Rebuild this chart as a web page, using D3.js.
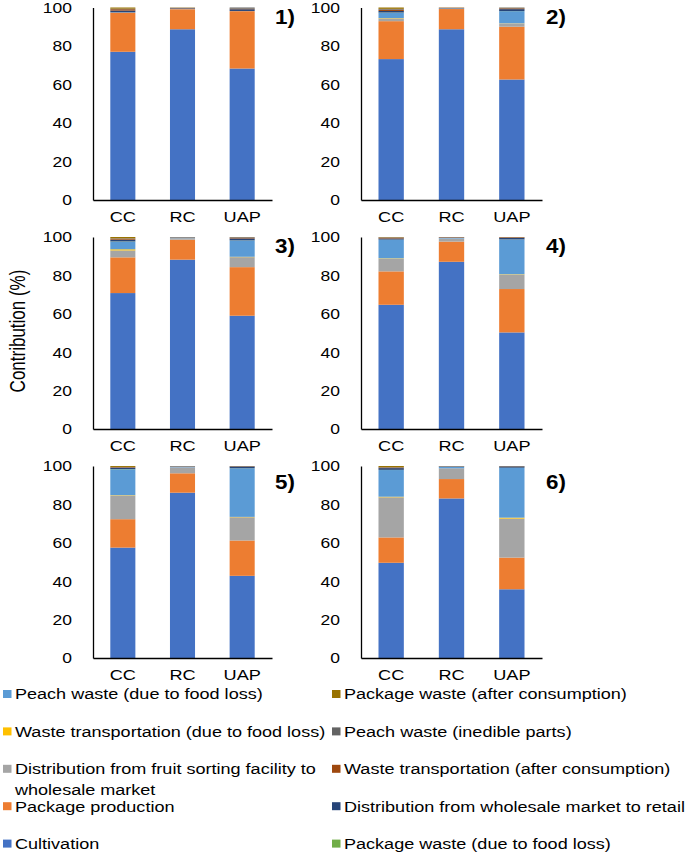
<!DOCTYPE html>
<html><head><meta charset="utf-8">
<script src="https://cdn.jsdelivr.net/npm/d3@7"></script>
<style>body{margin:0;background:#fff}svg{display:block}</style>
</head><body>
<svg id="chart" width="685" height="852"></svg>
<script>
const categories = ["CC", "RC", "UAP"];
const panelLabels = ["1)", "2)", "3)", "4)", "5)", "6)"];
const yTicks = [0, 20, 40, 60, 80, 100];
const yTitle = "Contribution (%)";
const seriesNames = [
  "Cultivation",
  "Package production",
  "Distribution from fruit sorting facility to wholesale market",
  "Waste transportation (due to food loss)",
  "Peach waste (due to food loss)",
  "Package waste (due to food loss)",
  "Distribution from wholesale market to retail",
  "Waste transportation (after consumption)",
  "Peach waste (inedible parts)",
  "Package waste (after consumption)"
];
const seriesColors = ["#4472C4", "#ED7D31", "#A5A5A5", "#FFC000", "#5B9BD5",
  "#70AD47", "#264478", "#9E480E", "#636363", "#997300"];

// values per panel (1..6), each [CC, RC, UAP]
const cultivation       = [[77.0, 88.7, 68.3], [73.2, 88.7, 62.6], [70.8, 88.2, 59.0], [64.7, 87.1, 50.3], [57.5, 86.1, 42.8], [49.6, 83.1, 35.8]];
const packageProduction = [[20.2, 10.4, 29.8], [19.7, 10.5, 27.4], [18.6, 10.4, 25.3], [17.4, 10.5, 22.6], [14.8, 10.1, 18.4], [13.2, 10.1, 16.5]];
const distSorting       = [[0.3, 0.2, 0.1], [1.4, 0.2, 1.7], [3.6, 0.8, 5.2], [6.6, 1.6, 7.5], [12.3, 3.1, 12.1], [20.9, 5.6, 20.3]];
const wasteTranspFL     = [[0, 0, 0], [0.2, 0, 0.1], [0.6, 0, 0.2], [0.2, 0, 0.2], [0.2, 0, 0.2], [0.3, 0, 0.5]];
const peachWasteFL      = [[0, 0, 0], [2.8, 0.1, 6.3], [4.0, 0.2, 8.5], [9.7, 0.3, 18.1], [13.5, 0.3, 25.3], [13.9, 0.8, 25.9]];
const packageWasteFL    = [[0, 0, 0], [0.1, 0, 0.05], [0.1, 0, 0.05], [0.05, 0, 0.05], [0.1, 0, 0.05], [0.1, 0, 0.1]];
const distWholesale     = [[0.9, 0.3, 0.9], [0.8, 0.2, 1.0], [0.9, 0.2, 1.0], [0.6, 0.2, 0.8], [0.6, 0.2, 0.9], [0.9, 0.2, 0.7]];
const wasteTranspAC     = [[0.7, 0.2, 0.3], [0.7, 0.2, 0.4], [0.5, 0.1, 0.4], [0.4, 0.2, 0.3], [0.3, 0.1, 0.15], [0.3, 0.1, 0.1]];
const peachInedible     = [[0.3, 0.1, 0.6], [0.4, 0.05, 0.4], [0.2, 0.05, 0.3], [0.2, 0.05, 0.1], [0.2, 0.05, 0.05], [0.2, 0.05, 0.05]];
const packageWasteAC    = [[0.6, 0.1, 0], [0.7, 0.05, 0.05], [0.7, 0.05, 0.05], [0.15, 0.05, 0.05], [0.5, 0.05, 0.05], [0.6, 0.05, 0.05]];

const seriesData = [cultivation, packageProduction, distSorting, wasteTranspFL, peachWasteFL,
  packageWasteFL, distWholesale, wasteTranspAC, peachInedible, packageWasteAC];

const FONT = "'Liberation Sans', Arial, sans-serif";
const SX = 1.25; // horizontal stretch of the reference text
const svg = d3.select("#chart");

const colX = [[93, 272], [361, 542]];
const rowY = [[200, 7.5], [429, 237], [658, 466]];
const labelDY = [9.5, 9, 16];

const keys = d3.range(seriesNames.length);
const stack = d3.stack().keys(keys);

panelLabels.forEach((lab, p) => {
  const col = p % 2, row = Math.floor(p / 2);
  const x = d3.scaleBand().domain(categories).range(colX[col]).paddingInner(0.58).paddingOuter(0.29);
  const y = d3.scaleLinear().domain([0, 100]).range(rowY[row]);
  const rows = categories.map((c, i) => {
    const o = { cat: c };
    keys.forEach(k => o[k] = seriesData[k][p][i]);
    return o;
  });
  const g = svg.append("g");
  const layers = stack(rows);
  g.selectAll("g.layer").data(layers).join("g")
    .attr("fill", d => seriesColors[d.key])
    .selectAll("rect").data(d => d).join("rect")
    .attr("x", d => x(d.data.cat))
    .attr("width", x.bandwidth())
    .attr("y", d => y(d[1]))
    .attr("height", d => Math.max(0, y(d[0]) - y(d[1])));

  const ya = g.append("g").attr("transform", `translate(${colX[col][0]},0)`)
    .call(d3.axisLeft(y).tickValues(yTicks).tickSize(0).tickSizeOuter(0).tickPadding(0));
  ya.select(".domain").attr("stroke", "#000").attr("stroke-width", 1.3);
  ya.selectAll(".tick text")
    .attr("x", null).attr("dy", "0.35em")
    .attr("transform", `translate(-21,0) scale(${SX},1)`)
    .attr("font-family", FONT).attr("font-size", 14).attr("fill", "#000");

  const xa = g.append("g").attr("transform", `translate(0,${rowY[row][0]})`)
    .call(d3.axisBottom(x).tickSize(0).tickSizeOuter(0).tickPadding(0));
  xa.select(".domain").attr("stroke", "#000").attr("stroke-width", 1.3);
  xa.selectAll(".tick text")
    .attr("y", null).attr("dy", "0.35em")
    .attr("transform", `translate(0,17) scale(${SX},1)`)
    .attr("font-family", FONT).attr("font-size", 14.5).attr("fill", "#000");

  g.append("text")
    .attr("transform", `translate(${colX[col][1] + (col === 0 ? 3 : 4)},${rowY[row][1] + labelDY[row]}) scale(1.12,1)`)
    .attr("dy", "0.35em")
    .attr("font-family", FONT).attr("font-size", 20).attr("font-weight", "bold")
    .attr("fill", "#000").text(lab);
});

svg.append("text")
  .attr("transform", "translate(18,331) rotate(-90) scale(1,1.25)")
  .attr("text-anchor", "middle").attr("dy", "0.35em")
  .attr("font-family", FONT).attr("font-size", 17).attr("fill", "#000")
  .text(yTitle);

// legend
const legendCols = [[4, 3, 2, 1, 0], [9, 8, 7, 6, 5]];
const legX = [3, 332];
const LSX = 1.165, LFS = 15.5;
legendCols.forEach((col, ci) => {
  col.forEach((k, ri) => {
    const cy = 694 + ri * 37.4;
    svg.append("rect").attr("x", legX[ci]).attr("y", cy - 4).attr("width", 8.5).attr("height", 8).attr("fill", seriesColors[k]);
    const t = svg.append("text")
      .attr("transform", `translate(${legX[ci] + 12},${cy}) scale(${LSX},1)`)
      .attr("font-family", FONT).attr("font-size", LFS).attr("fill", "#000");
    const words = seriesNames[k].split(" ");
    const maxW = ci === 0 ? 318 / LSX : 400 / LSX;
    let line = [], li = 0;
    let ts = t.append("tspan").attr("x", 0).attr("dy", "0.35em");
    words.forEach(w => {
      line.push(w);
      ts.text(line.join(" "));
      if (ts.node().getComputedTextLength() > maxW && line.length > 1) {
        line.pop();
        ts.text(line.join(" "));
        line = [w];
        li++;
        ts = t.append("tspan").attr("x", 0).attr("dy", 21).text(w);
      }
    });
  });
});
</script>
</body></html>
